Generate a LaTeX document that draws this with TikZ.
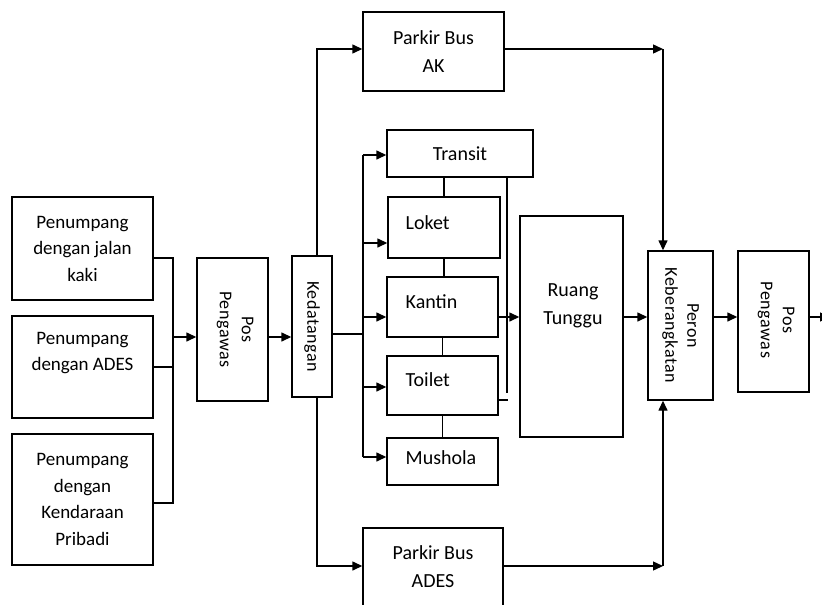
\documentclass[tikz,border=0pt]{standalone}
\usepackage{fontspec}
\setmainfont{Carlito}
\newfontfamily\spaced[LetterSpace=3]{Carlito}
\usetikzlibrary{arrows.meta}
\begin{document}
\begin{tikzpicture}[x=1pt,y=-1pt,line width=1.4pt,
  box/.style={draw,align=center,inner sep=0pt,font=\fontsize{20}{28}\selectfont},
  lbl/.style={align=center,inner sep=0pt,font=\fontsize{20}{28}\selectfont},
  pbox/.style={box,font=\fontsize{19}{26.5}\selectfont},
  rot/.style={rotate=-90,align=center,inner sep=0pt,font=\spaced\fontsize{18}{22}\selectfont},
  arr/.style={-{Triangle[length=10pt,width=9pt]}}]
\useasboundingbox (0,0) rectangle (822,605);
% boxes
\node[pbox,minimum width=141pt,minimum height=103pt] (pj1) at (82.5,248.5) {Penumpang\\dengan jalan\\kaki};
\node[pbox,minimum width=141pt,minimum height=102pt] (pj2) at (82.5,367) {};
\node[lbl,font=\fontsize{19}{26.5}\selectfont] (pj2t) at (82.5,353) {Penumpang\\dengan ADES};
\node[pbox,minimum width=141pt,minimum height=131pt] (pj3) at (82.5,499.5) {Penumpang\\dengan\\Kendaraan\\Pribadi};
\node[box,minimum width=71pt,minimum height=143pt] (pos1) at (232.5,329.5) {};
\node[rot] (pos1t) at (235,329.5) {Pos\\Pengawas};
\node[box,minimum width=40pt,minimum height=141pt] (ked) at (312,326.5) {};
\node[rot] (kedt) at (ked) {Kedatangan};
\node[box,minimum width=141pt,minimum height=79pt] (pbak) at (433.5,51.5) {Parkir Bus\\AK};
\node[box,minimum width=146pt,minimum height=47pt] (tr) at (460,153.5) {Transit};
\node[box,minimum width=112pt,minimum height=61pt] (lk) at (444,227.5) {};
\node[lbl,anchor=west] (lkt) at (405,223) {Loket};
\node[box,minimum width=111pt,minimum height=60pt] (kt) at (442.5,307) {};
\node[lbl,anchor=west] (ktt) at (405,302) {Kantin};
\node[box,minimum width=111pt,minimum height=59pt] (tl) at (442.5,385.5) {};
\node[lbl,anchor=west] (tlt) at (405,380) {Toilet};
\node[box,minimum width=111pt,minimum height=47pt] (ms) at (442.5,461.5) {};
\node[lbl,anchor=west] (mst) at (405,458) {Mushola};
\node[box,minimum width=103pt,minimum height=221pt] (rt) at (571.5,326.5) {};
\node[lbl] (rtt) at (573,306) {Ruang\\Tunggu};
\node[box,minimum width=65pt,minimum height=149pt] (pr) at (680.5,325.5) {};
\node[rot] (prt) at (pr) {Peron\\Keberangkatan};
\node[box,minimum width=71pt,minimum height=141pt] (pos2) at (773.5,321.5) {};
\node[rot] (pos2t) at (776,320) {Pos\\Pengawas};
\node[box,minimum width=140pt,minimum height=78pt] (pbades) at (433,567) {Parkir Bus\\ADES};
% coordinates
\coordinate (bT) at (173,258);
\coordinate (bB) at (173,503);
\coordinate (bM) at (173,337);
\coordinate (kUp) at (317,49);
\coordinate (kDn) at (317,566);
\coordinate (iT) at (363,155);
\coordinate (iL) at (363,243);
\coordinate (iM) at (363,334);
\coordinate (iK) at (363,317);
\coordinate (iTo) at (363,387);
\coordinate (iB) at (363,457);
\coordinate (rB) at (507,393);
\coordinate (tk) at (508,400);
\coordinate (out) at (830,317);
\coordinate (cAK) at (663,49);
\coordinate (cAD) at (663,566);
% connectors
\draw (pj1.east |- bT) -- (bT) -- (bB) -- (pj3.east |- bB);
\draw (pj2.east) -- (pj2.east -| bT);
\draw[arr] (bM) -- (pos1.west |- bM);
\draw[arr] (pos1.east |- bM) -- (ked.west |- bM);
\draw[arr] (ked.north -| kUp) -- (kUp) -- (pbak.west |- kUp);
\draw[arr] (ked.south -| kDn) -- (kDn) -- (pbades.west |- kDn);
\draw (ked.east |- iM) -- (iM);
\draw (iT) -- (iB);
\draw[arr] (iT) -- (tr.west |- iT);
\draw[arr] (iL) -- (lk.west |- iL);
\draw[arr] (iK) -- (kt.west |- iK);
\draw[arr] (iTo) -- (tl.west |- iTo);
\draw[arr] (iB) -- (ms.west |- iB);
\draw (tr.south -| lk.north) -- (lk.north);
\draw (lk.south) -- (lk.south |- kt.north);
\draw (kt.south) -- (tl.north);
\draw (tl.south) -- (ms.north);
\draw (tr.south -| rB) -- (rB);
\draw (tl.east |- tk) -- (tk);
\draw[arr] (kt.east |- iK) -- (rt.west |- iK);
\draw[arr] (rt.east |- iK) -- (pr.west |- iK);
\draw[arr] (pr.east |- iK) -- (pos2.west |- iK);
\draw[arr] (pos2.east |- out) -- (out);
\draw[arr] (pbak.east |- cAK) -- (cAK);
\draw[arr] (cAK) -- (cAK |- pr.north);
\draw[arr] (pbades.east |- cAD) -- (cAD);
\draw[arr] (cAD) -- (cAD |- pr.south);
\end{tikzpicture}
\end{document}
